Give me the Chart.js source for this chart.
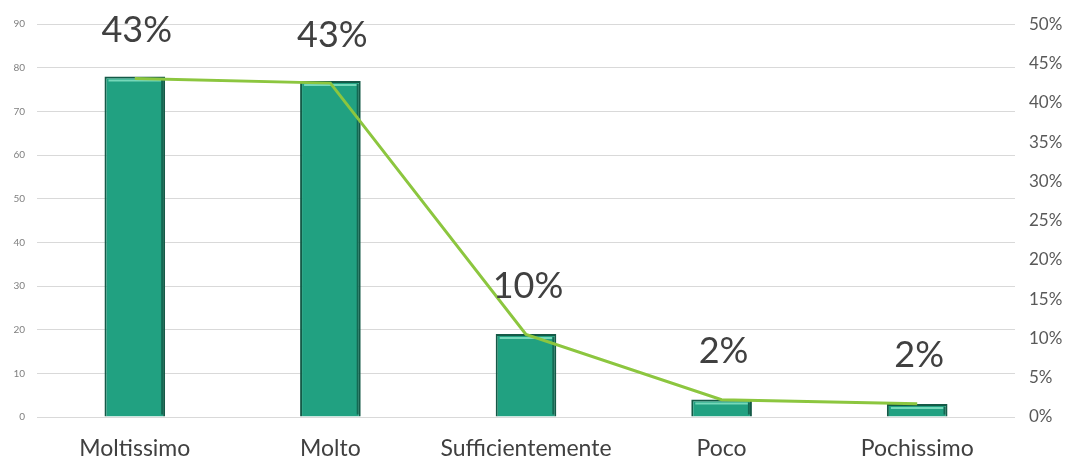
<!DOCTYPE html>
<html>
<head>
<meta charset="utf-8">
<script src="https://cdn.jsdelivr.net/npm/chart.js@4/dist/chart.umd.min.js"></script>
<style>
  html, body { margin: 0; padding: 0; background: #fff; overflow: hidden; }
</style>
</head>
<body>
<canvas id="grafico" width="1071" height="461"></canvas>
<script>
const categorie = ['Moltissimo', 'Molto', 'Sufficientemente', 'Poco', 'Pochissimo'];
const risposte = [78, 77, 19, 4, 3];
const percentuali = [43.1, 42.5, 10.5, 2.2, 1.7];
const etichette = ['43%', '43%', '10%', '2%', '2%'];

// etichette grandi sopra i punti della linea
const etichettePlugin = {
  id: 'etichette',
  afterDatasetsDraw(chart) {
    const ctx = chart.ctx;
    const meta = chart.getDatasetMeta(1);
    ctx.save();
    ctx.font = '36px Lato, "Open Sans", sans-serif';
    ctx.fillStyle = '#404040';
    ctx.textAlign = 'center';
    ctx.textBaseline = 'middle';
    meta.data.forEach((p, i) => {
      ctx.fillText(etichette[i], p.x + 2, p.y - 48);
    });
    ctx.restore();
  }
};

// piccolo effetto rilievo sulle barre
const rilievoPlugin = {
  id: 'rilievo',
  afterDatasetDraw(chart, args) {
    if (args.index !== 0) return;
    const ctx = chart.ctx;
    args.meta.data.forEach(b => {
      const l = b.x - b.width / 2, r = b.x + b.width / 2;
      ctx.save();
      ctx.strokeStyle = 'rgba(140,230,200,0.8)';
      ctx.lineWidth = 2;
      ctx.beginPath();
      ctx.moveTo(l + 4, b.y + 4);
      ctx.lineTo(r - 4, b.y + 4);
      ctx.stroke();
      ctx.strokeStyle = 'rgba(10,60,45,0.55)';
      ctx.beginPath();
      ctx.moveTo(r - 3, b.y + 3);
      ctx.lineTo(r - 3, b.base - 2);
      ctx.stroke();
      ctx.restore();
    });
  }
};

new Chart(document.getElementById('grafico'), {
  type: 'bar',
  data: {
    labels: categorie,
    datasets: [{
      label: 'Risposte',
      data: risposte,
      backgroundColor: '#21a181',
      borderColor: '#145a47',
      borderWidth: 2,
      barPercentage: 0.31,
      categoryPercentage: 1,
      yAxisID: 'y',
      order: 1
    }, {
      type: 'line',
      label: 'Percentuale',
      data: percentuali,
      borderColor: '#8cc63f',
      borderWidth: 3,
      pointRadius: 0,
      fill: false,
      tension: 0,
      yAxisID: 'y2',
      order: 0
    }]
  },
  options: {
    responsive: false,
    animation: false,
    devicePixelRatio: 1,
    layout: { padding: { top: 24, left: 0, right: 0, bottom: 0 } },
    plugins: { legend: { display: false }, tooltip: { enabled: false } },
    scales: {
      x: {
        grid: { display: false },
        border: { display: false },
        ticks: {
          color: '#404040',
          font: { family: 'Lato, "Open Sans", sans-serif', size: 23 },
          padding: 10,
          autoSkip: false,
          maxRotation: 0
        },
        afterFit(s) { s.height = 44; }
      },
      y: {
        position: 'left',
        min: 0, max: 90,
        ticks: {
          stepSize: 10,
          color: '#808080',
          font: { family: 'Lato, "Open Sans", sans-serif', size: 10 },
          padding: 12
        },
        grid: { color: '#d9d9d9', lineWidth: 1, drawTicks: false },
        border: { display: false },
        afterFit(s) { s.width = 37; }
      },
      y2: {
        position: 'right',
        min: 0, max: 50,
        ticks: {
          stepSize: 5,
          color: '#595959',
          font: { family: 'Lato, "Open Sans", sans-serif', size: 17 },
          padding: 14,
          callback: v => v + '%'
        },
        grid: { display: false, drawTicks: false },
        border: { display: false },
        afterFit(s) { s.width = 56; }
      }
    }
  },
  plugins: [etichettePlugin, rilievoPlugin]
});
</script>
</body>
</html>
